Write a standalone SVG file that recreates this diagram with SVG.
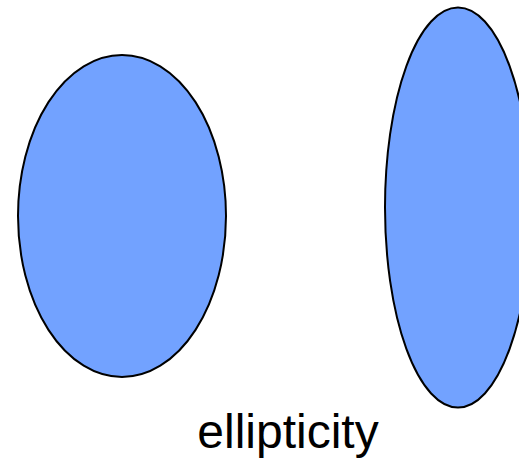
<svg xmlns="http://www.w3.org/2000/svg" width="519" height="459" viewBox="0 0 519 459">
<style>
.e{fill:#72a2ff;stroke:#000;stroke-width:2}
.t{font-family:"Liberation Sans",Arial,sans-serif;font-size:48px;fill:#000}
</style>
<rect width="519" height="459" fill="#fff"/>
<g id="ellipse-round"><ellipse class="e" cx="122" cy="216" rx="104" ry="161"/></g>
<g id="ellipse-tall"><ellipse class="e" cx="458" cy="207.5" rx="73" ry="200"/></g>
<g id="label"><text class="t" x="288" y="448" text-anchor="middle">ellipticity</text></g>
</svg>
